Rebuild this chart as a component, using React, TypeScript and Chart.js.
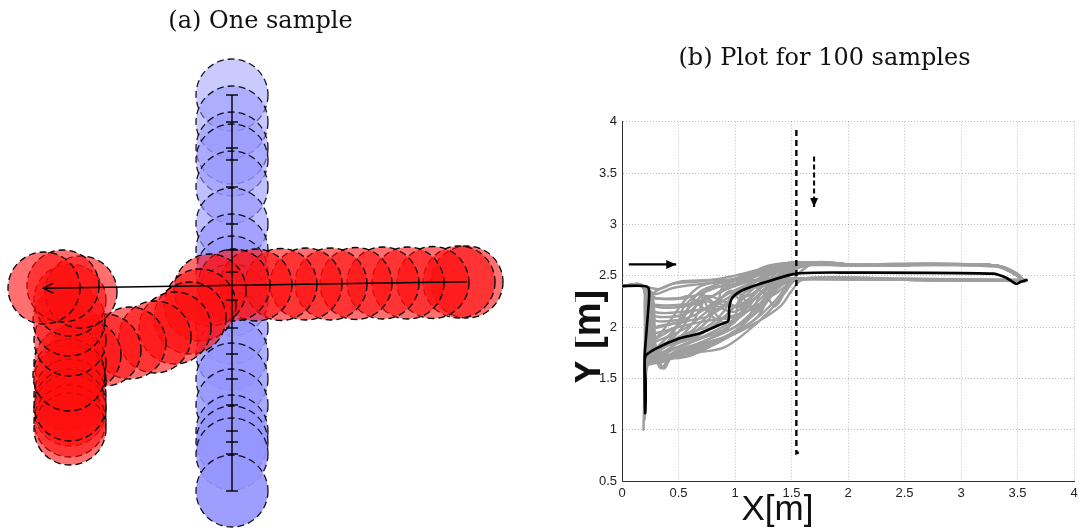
import React, { useEffect, useRef } from "react";
import { Chart, registerables } from "chart.js";
Chart.register(...registerables);

// ---------- Panel (a): one sample (metres, origin at the crossing) ----------
const titleA = "(a) One sample";
const blueX = [0, 0, 0, 0, 0, 0, 0, 0, 0, 0, 0, 0, 0, 0, 0, 0, 0];
const blueY = [1.9, 1.63, 1.37, 1.25, 0.98, 0.61, 0.35, 0.13, -0.15, -0.43, -0.69, -0.94, -1.2, -1.46, -1.57, -1.69, -2.06];
const redX = [2.35, 2.27, 2.01, 1.76, 1.51, 1.24, 0.99, 0.74, 0.49, 0.24, 0.02, -0.22, -0.32, -0.42, -0.57, -0.77, -1.02, -1.27, -1.47, -1.62, -1.62, -1.62, -1.62, -1.62, -1.62, -1.62, -1.63, -1.62, -1.63, -1.62, -1.51, -1.69, -1.88];
const redY = [0.03, 0.03, 0.025, 0.02, 0.02, 0.015, 0.01, 0.01, 0.005, 0, 0, -0.05, -0.2, -0.33, -0.43, -0.52, -0.58, -0.65, -0.7, -0.78, -0.95, -1.1, -1.25, -1.36, -1.44, -1.2, -0.9, -0.55, -0.35, -0.15, -0.07, -0.01, -0.03];
const redGoalX = [2.35, -1.887];
const redGoalY = [0.033, -0.033];

// ---------- Panel (b): 100 samples ----------
const titleB = "(b) Plot for 100 samples";
const xAxisTitle = "X[m]";
const yAxisTitle = "Y [m]";
const xTickValues = [0, 0.5, 1, 1.5, 2, 2.5, 3, 3.5, 4];
const xTickLabels = ["0", "0.5", "1", "1.5", "2", "2.5", "3", "3.5", "4"];
const yTickValues = [0.5, 1, 1.5, 2, 2.5, 3, 3.5, 4];
const yTickLabels = ["0.5", "1", "1.5", "2", "2.5", "3", "3.5", "4"];

const s01 = [[0,2.4],[0.18,2.4],[0.26,2.38],[0.33,2.37],[0.5,2.44],[0.8,2.46],[1.0,2.5],[1.3,2.58],[1.6,2.62],[1.9,2.62],[2.1,2.6],[3.3,2.6],[3.45,2.55],[3.55,2.45]];
const s02 = [[0,2.4],[0.18,2.4],[0.25,2.34],[0.3,2.28],[0.55,2.28],[0.75,2.35],[1.0,2.45],[1.3,2.55],[1.55,2.6],[2.0,2.61],[3.3,2.6],[3.45,2.54],[3.55,2.44]];
const s03 = [[0,2.4],[0.18,2.4],[0.24,2.3],[0.28,2.22],[0.55,2.22],[0.72,2.26],[0.95,2.38],[1.2,2.46],[1.5,2.47],[2.5,2.46],[3.58,2.45]];
const s04 = [[0,2.4],[0.18,2.4],[0.24,2.28],[0.28,2.15],[0.55,2.15],[0.8,2.2],[1.1,2.4],[1.4,2.58],[1.7,2.62],[2.1,2.6],[3.3,2.6],[3.5,2.5],[3.57,2.44]];
const s05 = [[0,2.4],[0.18,2.4],[0.24,2.25],[0.28,2.07],[0.5,2.07],[0.65,2.12],[0.9,2.3],[1.2,2.45],[1.55,2.47],[2.5,2.46],[3.58,2.45]];
const s06 = [[0,2.4],[0.18,2.4],[0.22,2.2],[0.22,1.9],[0.23,1.7],[0.35,1.75],[0.6,1.85],[0.85,1.95],[1.0,2.05],[1.2,2.3],[1.5,2.6],[1.8,2.62],[2.1,2.6],[3.3,2.6],[3.5,2.5],[3.57,2.44]];
const s07 = [[0,2.4],[0.18,2.4],[0.26,2.3],[0.28,2.0],[0.3,1.68],[0.4,1.72],[0.6,1.78],[0.9,1.9],[1.1,2.05],[1.35,2.35],[1.55,2.47],[2.5,2.47],[3.58,2.46]];
const s08 = [[0,2.4],[0.18,2.4],[0.23,2.2],[0.22,1.82],[0.3,1.86],[0.55,1.98],[0.75,2.15],[0.9,2.3],[1.1,2.4],[1.4,2.55],[1.7,2.62],[2.1,2.6],[3.3,2.6],[3.5,2.5],[3.57,2.44]];
const s09 = [[0,2.4],[0.18,2.4],[0.25,2.3],[0.28,1.9],[0.3,1.7],[0.34,1.6],[0.37,1.62],[0.45,1.75],[0.7,1.85],[1.0,2.0],[1.2,2.15],[1.4,2.4],[1.6,2.6],[2.0,2.61],[3.3,2.6],[3.5,2.5],[3.56,2.44]];
const s10 = [[0,2.4],[0.18,2.4],[0.2,2.2],[0.2,1.5],[0.19,1.0],[0.2,1.3],[0.22,1.65],[0.35,1.8],[0.6,1.9],[0.8,2.0],[1.0,2.2],[1.3,2.5],[1.55,2.6],[2.0,2.6],[3.3,2.59],[3.5,2.5],[3.56,2.44]];
const s11 = [[0,2.4],[0.18,2.4],[0.21,2.2],[0.21,1.6],[0.2,1.1],[0.21,1.5],[0.22,1.62],[0.3,1.7],[0.5,1.75],[0.7,1.85],[1.0,2.0],[1.2,2.2],[1.4,2.45],[1.6,2.47],[2.5,2.46],[3.58,2.45]];
const s12 = [[0,2.4],[0.18,2.4],[0.23,2.2],[0.22,1.75],[0.4,1.9],[0.55,2.1],[0.65,2.3],[0.75,2.38],[0.9,2.4],[1.1,2.45],[1.35,2.6],[1.6,2.63],[2.0,2.61],[3.3,2.6],[3.5,2.52],[3.56,2.44]];
const s13 = [[0,2.4],[0.18,2.4],[0.24,2.2],[0.23,1.7],[0.4,1.85],[0.5,2.05],[0.55,2.2],[0.7,2.32],[0.85,2.2],[1.0,2.15],[1.2,2.3],[1.4,2.44],[1.6,2.47],[2.5,2.46],[3.58,2.45]];
const s14 = [[0,2.4],[0.18,2.4],[0.25,2.25],[0.24,1.68],[0.45,1.78],[0.7,1.9],[0.9,1.95],[1.0,2.1],[1.05,2.3],[1.2,2.4],[1.5,2.55],[1.7,2.62],[2.1,2.6],[3.3,2.6],[3.5,2.5],[3.57,2.44]];
const s15 = [[0,2.4],[0.18,2.4],[0.26,2.25],[0.25,1.72],[0.5,1.85],[0.75,2.05],[0.85,2.25],[0.9,2.4],[1.1,2.5],[1.3,2.6],[1.6,2.63],[2.0,2.6],[3.3,2.6],[3.5,2.5],[3.56,2.45]];
const s16 = [[0,2.4],[0.18,2.4],[0.22,2.1],[0.22,1.65],[0.4,1.7],[0.65,1.75],[0.9,1.8],[1.1,1.95],[1.3,2.15],[1.45,2.35],[1.55,2.46],[2.5,2.46],[3.58,2.45]];
const s17 = [[0,2.4],[0.18,2.4],[0.25,2.2],[0.28,1.7],[0.35,1.69],[0.6,1.72],[0.9,1.88],[1.2,2.05],[1.4,2.2],[1.5,2.35],[1.6,2.46],[2.5,2.46],[3.58,2.45]];
const s18 = [[0,2.4],[0.18,2.4],[0.23,2.1],[0.22,1.9],[0.3,2.0],[0.5,2.05],[0.6,2.2],[0.75,2.25],[1.0,2.2],[1.15,2.3],[1.35,2.55],[1.6,2.62],[2.0,2.61],[3.3,2.6],[3.5,2.5],[3.57,2.44]];
const s19 = [[0,2.4],[0.18,2.4],[0.24,2.15],[0.25,1.95],[0.5,2.0],[0.7,2.05],[0.95,2.1],[1.2,2.2],[1.4,2.4],[1.6,2.47],[2.5,2.46],[3.58,2.45]];
const s20 = [[0,2.4],[0.18,2.4],[0.23,2.15],[0.23,1.85],[0.35,1.95],[0.55,2.25],[0.7,2.4],[0.95,2.45],[1.2,2.55],[1.5,2.62],[2.0,2.61],[3.3,2.6],[3.5,2.5],[3.56,2.44]];
const s21 = [[0,2.4],[0.18,2.4],[0.27,2.3],[0.3,1.8],[0.35,1.75],[0.55,1.9],[0.75,2.1],[0.95,2.35],[1.1,2.3],[1.25,2.4],[1.45,2.55],[1.7,2.62],[2.0,2.6],[3.3,2.6],[3.5,2.5],[3.57,2.44]];
const s22 = [[0,2.4],[0.18,2.4],[0.26,2.34],[0.3,2.32],[0.45,2.38],[0.7,2.42],[0.9,2.45],[1.1,2.5],[1.4,2.6],[1.7,2.63],[2.0,2.61],[3.3,2.6],[3.5,2.5],[3.56,2.44]];
const s23 = [[0,2.4],[0.18,2.4],[0.25,2.3],[0.27,2.28],[0.5,2.28],[0.6,2.3],[0.7,2.2],[0.8,2.15],[1.0,2.3],[1.2,2.45],[1.5,2.6],[2.0,2.6],[3.3,2.6],[3.5,2.5],[3.56,2.44]];
const s24 = [[0,2.4],[0.18,2.4],[0.24,2.2],[0.25,2.0],[0.4,2.02],[0.6,2.1],[0.7,2.3],[0.8,2.1],[0.95,2.05],[1.1,2.2],[1.3,2.4],[1.5,2.46],[2.5,2.46],[3.58,2.45]];
const s25 = [[0,2.4],[0.18,2.4],[0.23,2.0],[0.24,1.78],[0.4,1.85],[0.6,1.95],[0.75,2.0],[0.9,2.15],[1.0,2.35],[1.1,2.25],[1.2,2.15],[1.35,2.35],[1.5,2.55],[1.8,2.62],[2.1,2.6],[3.3,2.6],[3.5,2.5],[3.57,2.44]];
const s26 = [[0,2.4],[0.18,2.4],[0.25,2.2],[0.26,1.66],[0.5,1.76],[0.75,1.85],[1.0,1.95],[1.15,2.15],[1.25,2.35],[1.35,2.2],[1.45,2.35],[1.55,2.47],[2.5,2.47],[3.58,2.45]];
const s27 = [[0,2.4],[0.18,2.4],[0.22,2.0],[0.22,1.72],[0.35,1.8],[0.5,1.95],[0.6,2.1],[0.65,2.2],[0.8,2.3],[0.95,2.4],[1.2,2.5],[1.45,2.62],[1.8,2.62],[2.1,2.6],[3.3,2.6],[3.5,2.5],[3.57,2.44]];
const s28 = [[0,2.4],[0.18,2.4],[0.24,2.25],[0.26,2.12],[0.45,2.1],[0.6,2.15],[0.75,2.3],[0.9,2.25],[1.05,2.2],[1.2,2.35],[1.4,2.55],[1.6,2.6],[2.0,2.6],[3.3,2.6],[3.5,2.5],[3.57,2.44]];
const s29 = [[0,2.4],[0.18,2.4],[0.23,2.1],[0.23,1.8],[0.4,1.82],[0.65,1.9],[0.85,2.05],[1.0,2.2],[1.15,2.4],[1.3,2.3],[1.45,2.4],[1.55,2.47],[2.5,2.46],[3.58,2.45]];
const s30 = [[0,2.4],[0.18,2.4],[0.26,2.3],[0.3,2.2],[0.55,2.2],[0.65,2.25],[0.8,2.4],[1.0,2.45],[1.2,2.5],[1.45,2.6],[1.8,2.63],[2.1,2.6],[3.3,2.6],[3.5,2.5],[3.57,2.44]];
const s31 = [[0,2.4],[0.18,2.4],[0.22,2.15],[0.23,1.75],[0.45,1.85],[0.6,2.0],[0.7,2.2],[0.75,2.3],[0.85,2.1],[1.0,2.1],[1.15,2.25],[1.35,2.45],[1.55,2.47],[2.5,2.46],[3.58,2.45]];
const s32 = [[0,2.4],[0.18,2.4],[0.25,2.25],[0.26,1.7],[0.32,1.65],[0.5,1.72],[0.8,1.82],[1.0,1.95],[1.2,2.1],[1.3,2.3],[1.4,2.45],[1.55,2.6],[1.9,2.62],[2.1,2.6],[3.3,2.6],[3.5,2.5],[3.56,2.44]];
const s33 = [[0,2.4],[0.18,2.4],[0.21,2.1],[0.21,1.4],[0.2,1.2],[0.22,1.6],[0.3,1.72],[0.55,1.82],[0.8,1.95],[1.05,2.1],[1.25,2.3],[1.45,2.5],[1.6,2.6],[2.0,2.61],[3.3,2.6],[3.5,2.5],[3.56,2.44]];
const s34 = [[0,2.4],[0.18,2.4],[0.25,2.3],[0.3,2.35],[0.45,2.42],[0.65,2.44],[0.85,2.46],[1.0,2.45],[1.2,2.46],[1.5,2.47],[2.5,2.46],[3.58,2.45]];
const s35 = [[0,2.4],[0.18,2.4],[0.24,2.2],[0.24,1.88],[0.4,1.95],[0.55,2.05],[0.75,2.1],[0.9,2.2],[1.0,2.3],[1.1,2.2],[1.25,2.25],[1.4,2.5],[1.7,2.63],[2.1,2.6],[3.3,2.6],[3.5,2.5],[3.57,2.44]];
const s36 = [[0,2.4],[0.18,2.4],[0.26,2.25],[0.3,1.75],[0.36,1.6],[0.38,1.6],[0.45,1.72],[0.7,1.8],[0.95,1.92],[1.15,2.05],[1.35,2.25],[1.5,2.45],[1.7,2.62],[2.1,2.6],[3.3,2.6],[3.5,2.5],[3.57,2.44]];
const samples = [s01, s02, s03, s04, s05, s06, s07, s08, s09, s10, s11, s12, s13, s14, s15, s16, s17, s18, s19, s20, s21, s22, s23, s24, s25, s26, s27, s28, s29, s30, s31, s32, s33, s34, s35, s36];

const meanPath = [[0,2.4],[0.2,2.4],[0.235,2.38],[0.24,2.3],[0.22,2.0],[0.2,1.71],[0.2,1.4],[0.205,1.16],[0.21,1.45],[0.205,1.71],[0.3,1.79],[0.51,1.89],[0.69,1.94],[0.86,2.02],[0.94,2.06],[0.95,2.2],[0.98,2.29],[1.07,2.36],[1.28,2.44],[1.54,2.52],[2.0,2.53],[3.28,2.52],[3.4,2.48],[3.49,2.42],[3.53,2.44],[3.59,2.46]];
const robotPathX = [1.543, 1.543, 1.57];
const robotPathY = [3.92, 0.77, 0.78];
const humanDirX = [1.70, 1.70];
const humanDirY = [3.66, 3.17];
const robotDirX = [0.06, 0.48];
const robotDirY = [2.61, 2.61];

const toXY = (xs: number[], ys: number[]) => xs.map((x, i) => ({ x, y: ys[i] }));
const pairs = (p: number[][]) => p.map(([x, y]) => ({ x, y }));

const circleDashPlugin = {
  id: "circleDash",
  beforeDatasetDraw(chart: any, args: any) {
    const ds = chart.data.datasets[args.index];
    if (ds.circleDash) chart.ctx.setLineDash(ds.circleDash);
  },
  afterDatasetDraw(chart: any) {
    chart.ctx.setLineDash([]);
  },
};

const arrowPlugin = {
  id: "arrowHeads",
  afterDatasetsDraw(chart: any) {
    const ctx = chart.ctx;
    chart.data.datasets.forEach((ds: any, i: number) => {
      if (!ds.arrowHead) return;
      const pts = chart.getDatasetMeta(i).data;
      const n = pts.length;
      if (n < 2) return;
      const p = pts[n - 1], q = pts[n - 2];
      const ang = Math.atan2(p.y - q.y, p.x - q.x);
      const { len, width, filled } = ds.arrowHead;
      ctx.save();
      ctx.setLineDash([]);
      ctx.translate(p.x, p.y);
      ctx.rotate(ang);
      ctx.beginPath();
      ctx.moveTo(-len, -width);
      ctx.lineTo(0, 0);
      ctx.lineTo(-len, width);
      if (filled) {
        ctx.closePath();
        ctx.fillStyle = ds.borderColor;
        ctx.fill();
      } else {
        ctx.strokeStyle = ds.borderColor;
        ctx.lineWidth = ds.borderWidth;
        ctx.stroke();
      }
      ctx.restore();
    });
  },
};

const axisTitlePlugin = {
  id: "axisTitles",
  afterDraw(chart: any) {
    const { ctx, chartArea: a } = chart;
    ctx.save();
    ctx.fillStyle = "#111";
    ctx.textAlign = "center";
    ctx.textBaseline = "middle";
    ctx.font = 'bold 38px "Liberation Sans", Arial, sans-serif';
    ctx.translate(a.left - 32, a.top + 0.6 * (a.bottom - a.top));
    ctx.rotate(-Math.PI / 2);
    ctx.fillText(yAxisTitle, 0, 0);
    ctx.restore();
    ctx.save();
    ctx.fillStyle = "#111";
    ctx.textAlign = "center";
    ctx.textBaseline = "middle";
    ctx.font = '35px "Liberation Sans", Arial, sans-serif';
    ctx.fillText(xAxisTitle, a.left + 0.344 * (a.right - a.left), a.bottom + 29);
    ctx.restore();
  },
};

const zeroPad = (s: any) => {
  s.paddingLeft = 0;
  s.paddingRight = 0;
  s.paddingTop = 0;
  s.paddingBottom = 0;
};

const serifTitle = { family: '"DejaVu Serif", serif', size: 24, weight: "normal" as const, lineHeight: 1.2 };

export default function App() {
  const refA = useRef<HTMLCanvasElement>(null);
  const refB = useRef<HTMLCanvasElement>(null);

  useEffect(() => {
    const nBlue = blueY.length;
    const chartA = new Chart(refA.current!, {
      type: "scatter",
      data: {
        datasets: [
          {
            data: toXY(redGoalX, redGoalY),
            showLine: true,
            borderColor: "#000",
            borderWidth: 1.4,
            pointRadius: 0,
            order: 0,
            arrowHead: { len: 10, width: 5, filled: false },
          } as any,
          {
            data: toXY(blueX, blueY),
            showLine: true,
            borderColor: "#000",
            borderWidth: 1.4,
            pointStyle: "line",
            pointRadius: 6,
            pointBorderColor: "#000",
            pointBorderWidth: 1.4,
            order: 1,
          },
          {
            data: toXY(redX, redY),
            pointRadius: 36,
            backgroundColor: "rgba(255,15,15,0.6)",
            borderColor: "#000",
            borderWidth: 1.3,
            order: 2,
            circleDash: [7, 4],
          } as any,
          {
            data: toXY(blueX, blueY),
            pointRadius: 36,
            backgroundColor: blueY.map((_, i) => `rgba(150,150,255,${(0.5 + 0.42 * i / (nBlue - 1)).toFixed(3)})`),
            borderColor: "rgba(0,0,0,0.9)",
            borderWidth: 1.3,
            order: 3,
            circleDash: [7, 4],
          } as any,
        ],
      },
      options: {
        responsive: false,
        animation: false,
        devicePixelRatio: 1,
        layout: { padding: 0, autoPadding: false },
        plugins: {
          legend: { display: false },
          tooltip: { enabled: false },
          title: { display: true, text: titleA, color: "#111", font: serifTitle, padding: { top: 7.6, bottom: 3.6 } },
        },
        scales: {
          x: { type: "linear", display: false, min: -2.32, max: 2.89 },
          y: { type: "linear", display: false, min: -2.45, max: 2.45 },
        },
      },
      plugins: [circleDashPlugin, arrowPlugin],
    });

    const tickFont = { family: '"Liberation Sans", Arial, sans-serif', size: 13 };
    const chartB = new Chart(refB.current!, {
      type: "scatter",
      data: {
        datasets: [
          {
            data: pairs(meanPath),
            showLine: true,
            borderColor: "#000",
            borderWidth: 2.6,
            tension: 0.25,
            pointRadius: 0,
            order: 0,
          },
          {
            data: toXY(robotPathX, robotPathY),
            showLine: true,
            borderColor: "#000",
            borderWidth: 2.4,
            borderDash: [6, 4],
            pointRadius: 0,
            order: 0,
          },
          {
            data: toXY(humanDirX, humanDirY),
            showLine: true,
            borderColor: "#000",
            borderWidth: 2,
            borderDash: [5, 3],
            pointRadius: 0,
            order: 0,
            arrowHead: { len: 9, width: 4, filled: true },
          } as any,
          {
            data: toXY(robotDirX, robotDirY),
            showLine: true,
            borderColor: "#000",
            borderWidth: 2.2,
            pointRadius: 0,
            order: 0,
            arrowHead: { len: 10, width: 4.5, filled: true },
          } as any,
          ...samples.map((s) => ({
            data: pairs(s),
            showLine: true,
            borderColor: "rgb(158,158,158)",
            borderWidth: 2.4,
            tension: 0.35,
            pointRadius: 0,
            order: 1,
          })),
        ],
      },
      options: {
        responsive: false,
        animation: false,
        devicePixelRatio: 1,
        layout: { padding: { left: 0, right: 5, top: 0, bottom: 0 }, autoPadding: false },
        plugins: {
          legend: { display: false },
          tooltip: { enabled: false },
          title: { display: true, text: titleB, color: "#111", font: serifTitle, padding: { top: 44.6, bottom: 48.3 } },
        },
        scales: {
          x: {
            type: "linear",
            min: 0,
            max: 4,
            afterBuildTicks: (s: any) => { s.ticks = xTickValues.map((v) => ({ value: v })); },
            afterFit: (s: any) => { s.height = 49; zeroPad(s); },
            ticks: { color: "#222", font: tickFont, padding: 5, maxRotation: 0, autoSkip: false, callback: (_v: any, i: number) => xTickLabels[i] },
            grid: { color: "rgba(0,0,0,0.25)", lineWidth: 1, drawTicks: false },
            border: { display: true, color: "#333", width: 1, dash: [1, 2] },
          },
          y: {
            type: "linear",
            min: 0.5,
            max: 4,
            afterBuildTicks: (s: any) => { s.ticks = yTickValues.map((v) => ({ value: v })); },
            afterFit: (s: any) => { s.width = 47; zeroPad(s); },
            ticks: { color: "#222", font: tickFont, padding: 5, autoSkip: false, callback: (_v: any, i: number) => yTickLabels[i] },
            grid: { color: "rgba(0,0,0,0.25)", lineWidth: 1, drawTicks: false },
            border: { display: true, color: "#333", width: 1, dash: [1, 2] },
          },
        },
      },
      plugins: [arrowPlugin, axisTitlePlugin],
    });

    return () => {
      chartA.destroy();
      chartB.destroy();
    };
  }, []);

  return (
    <div style={{ position: "fixed", left: 0, top: 0, width: 1079, height: 530, background: "#fff" }}>
      <canvas ref={refA} width={521} height={530} style={{ position: "absolute", left: 0, top: 0, width: 521, height: 530 }} />
      <canvas ref={refB} width={504} height={530} style={{ position: "absolute", left: 575, top: 0, width: 504, height: 530 }} />
    </div>
  );
}
